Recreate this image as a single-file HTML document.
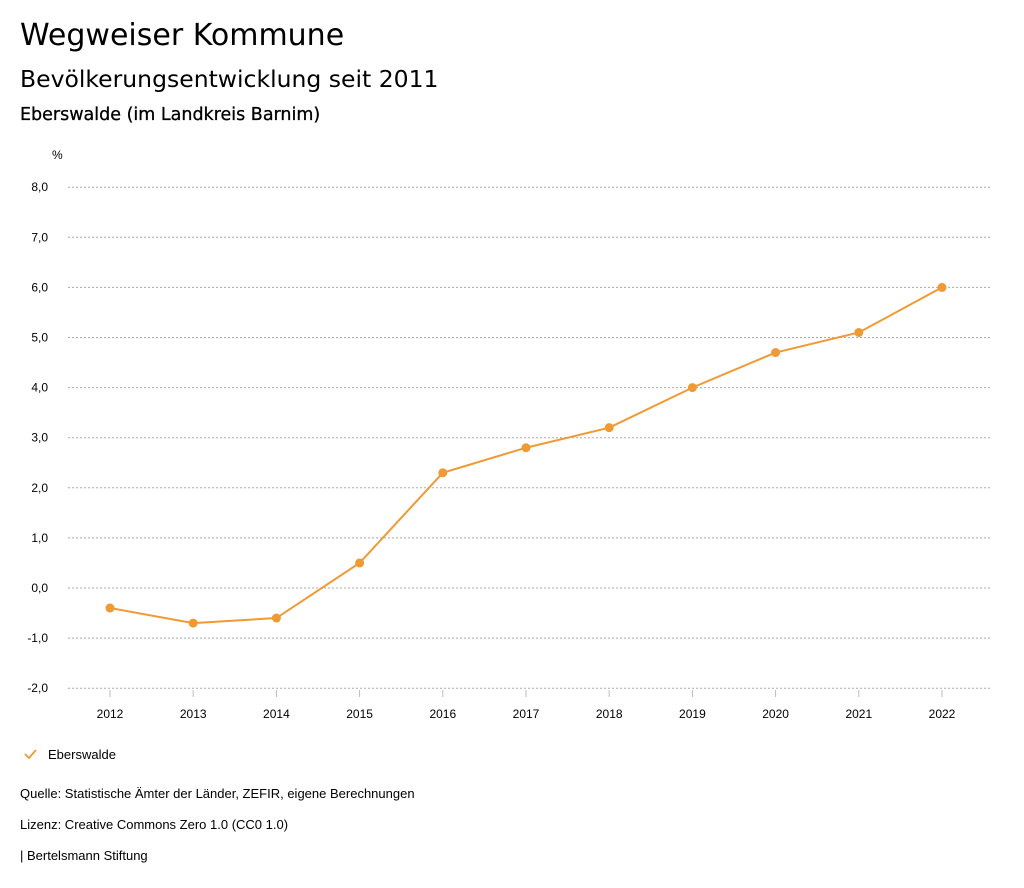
<!DOCTYPE html>
<html><head><meta charset="utf-8"><style>
body{margin:0;background:#fff;font-family:"Liberation Sans",sans-serif;color:#000}
.t{position:absolute;white-space:nowrap}
.d{font-family:"DejaVu Sans",sans-serif}
</style></head><body>
<div style="position:relative;width:1024px;height:888px;overflow:hidden">
<div class="t d" style="left:20px;top:18px;font-size:30px">Wegweiser Kommune</div>
<div class="t d" style="left:20px;top:65px;font-size:23.5px">Bevölkerungsentwicklung seit 2011</div>
<div class="t d" style="left:20px;top:105px;font-size:17.5px;font-weight:500;-webkit-text-stroke:0.3px #000">Eberswalde (im Landkreis Barnim)</div>
<svg id="chart" width="1024" height="888" style="position:absolute;left:0;top:0"></svg>
<div class="t" style="left:20px;top:786px;font-size:13px">Quelle: Statistische Ämter der Länder, ZEFIR, eigene Berechnungen</div>
<div class="t" style="left:20px;top:817px;font-size:13px">Lizenz: Creative Commons Zero 1.0 (CC0 1.0)</div>
<div class="t" style="left:20px;top:848px;font-size:13px">| Bertelsmann Stiftung</div>
</div>
<script>
const years=[2012,2013,2014,2015,2016,2017,2018,2019,2020,2021,2022];
const values=[-0.4,-0.7,-0.6,0.5,2.3,2.8,3.2,4.0,4.7,5.1,6.0];
const yTicks=[8,7,6,5,4,3,2,1,0,-1,-2];
const seriesName="Eberswalde";
const color="#ef9a34";
const svg=document.getElementById('chart');
const NS="http://www.w3.org/2000/svg";
const x=i=>110+i*(942-110)/(years.length-1);
const y=v=>588-v*50.1;
function mk(tag,attrs){const e=document.createElementNS(NS,tag);for(const k in attrs)e.setAttribute(k,attrs[k]);svg.appendChild(e);return e;}
let t=mk('text',{x:52,y:159,'font-size':12,'font-family':'Liberation Sans'});t.textContent='%';


yTicks.forEach(v=>{
 const l=mk('line',{x1:68,x2:990,y1:y(v),y2:y(v),stroke:'#aaa','stroke-dasharray':'2,2','stroke-width':1});
 
 
 const tx=mk('text',{x:48,y:y(v)+4,'text-anchor':'end','font-size':12,'font-family':'Liberation Sans'});
 tx.textContent=v.toFixed(1).replace('.',',');
 
 
});
years.forEach((yr,i)=>{
 const l=mk('line',{x1:x(i),x2:x(i),y1:690,y2:697,stroke:'#bbb'});
 
 
 const tx=mk('text',{x:x(i),y:718,'text-anchor':'middle','font-size':12,'font-family':'Liberation Sans'});
 tx.textContent=yr;
 
 
});
const p=mk('polyline',{points:values.map((v,i)=>x(i)+','+y(v)).join(' '),fill:'none',stroke:color,'stroke-width':2});


values.forEach((v,i)=>{
 const c=mk('circle',{cx:x(i),cy:y(v),r:4.5,fill:color});
 
 
});
const ck=mk('polyline',{points:'25,754 29,758 36,750',fill:'none',stroke:color,'stroke-width':1.8});


const lt=mk('text',{x:48,y:759,'font-size':13,'font-family':'Liberation Sans'});
lt.textContent=seriesName;


</script>
</body></html>
